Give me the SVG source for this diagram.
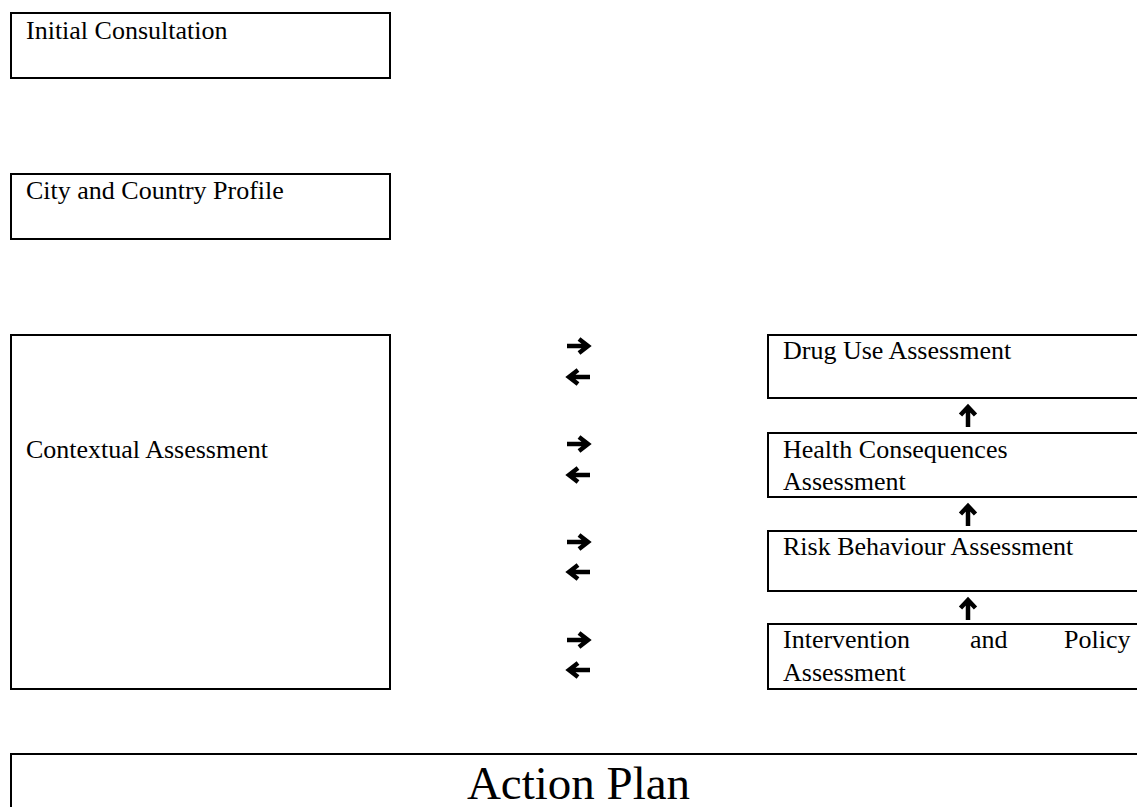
<svg xmlns="http://www.w3.org/2000/svg" width="1137" height="807" viewBox="0 0 1137 807">
<style>
.box{fill:#fff;stroke:#000;stroke-width:2}
.t{font-family:"Liberation Serif","Times New Roman",serif;font-size:26px;fill:#000}
.big{font-family:"Liberation Serif","Times New Roman",serif;font-size:47px;fill:#000}
.arr{fill:none;stroke:#000;stroke-width:4.5;stroke-linecap:butt;stroke-linejoin:miter}
</style>
<defs>
<path id="ar" class="arr" d="M0,0 H21 M12,-7 L21,0 L12,7"/>
<path id="al" class="arr" d="M23,0 H2 M11,-7 L2,0 L11,7"/>
<path id="au" class="arr" d="M0,22 V2 M-7.5,10 L0,2 L7.5,10"/>
</defs>
<rect width="1137" height="807" fill="#fff"/>
<g id="initial-consultation">
<rect class="box" x="11" y="13" width="379" height="65"/>
<text class="t" x="26" y="39">Initial Consultation</text>
</g>
<g id="city-country-profile">
<rect class="box" x="11" y="174" width="379" height="65"/>
<text class="t" x="26" y="199">City and Country Profile</text>
</g>
<g id="contextual-assessment">
<rect class="box" x="11" y="335" width="379" height="354"/>
<text class="t" x="26" y="458">Contextual Assessment</text>
</g>
<g id="drug-use">
<rect class="box" x="768" y="335" width="420" height="63"/>
<text class="t" x="783" y="359">Drug Use Assessment</text>
</g>
<g id="health-consequences">
<rect class="box" x="768" y="433" width="420" height="64"/>
<text class="t" x="783" y="458">Health Consequences</text>
<text class="t" x="783" y="490">Assessment</text>
</g>
<g id="risk-behaviour">
<rect class="box" x="768" y="531" width="420" height="60"/>
<text class="t" x="783" y="555">Risk Behaviour Assessment</text>
</g>
<g id="intervention-policy">
<rect class="box" x="768" y="624" width="420" height="65"/>
<text class="t" y="648"><tspan x="783">Intervention</tspan><tspan x="970">and</tspan><tspan x="1064">Policy</tspan></text>
<text class="t" x="783" y="681">Assessment</text>
</g>
<g id="action-plan">
<rect class="box" x="11" y="754" width="1200" height="100"/>
<text class="big" x="578.5" y="799" text-anchor="middle">Action Plan</text>
</g>
<g id="connectors">
<use href="#ar" x="567" y="346"/>
<use href="#al" x="567" y="377"/>
<use href="#ar" x="567" y="444"/>
<use href="#al" x="567" y="475"/>
<use href="#ar" x="567" y="542"/>
<use href="#al" x="567" y="572"/>
<use href="#ar" x="567" y="640"/>
<use href="#al" x="567" y="670"/>
<use href="#au" x="968" y="405"/>
<use href="#au" x="968" y="504"/>
<use href="#au" x="968" y="598"/>
</g>
</svg>
